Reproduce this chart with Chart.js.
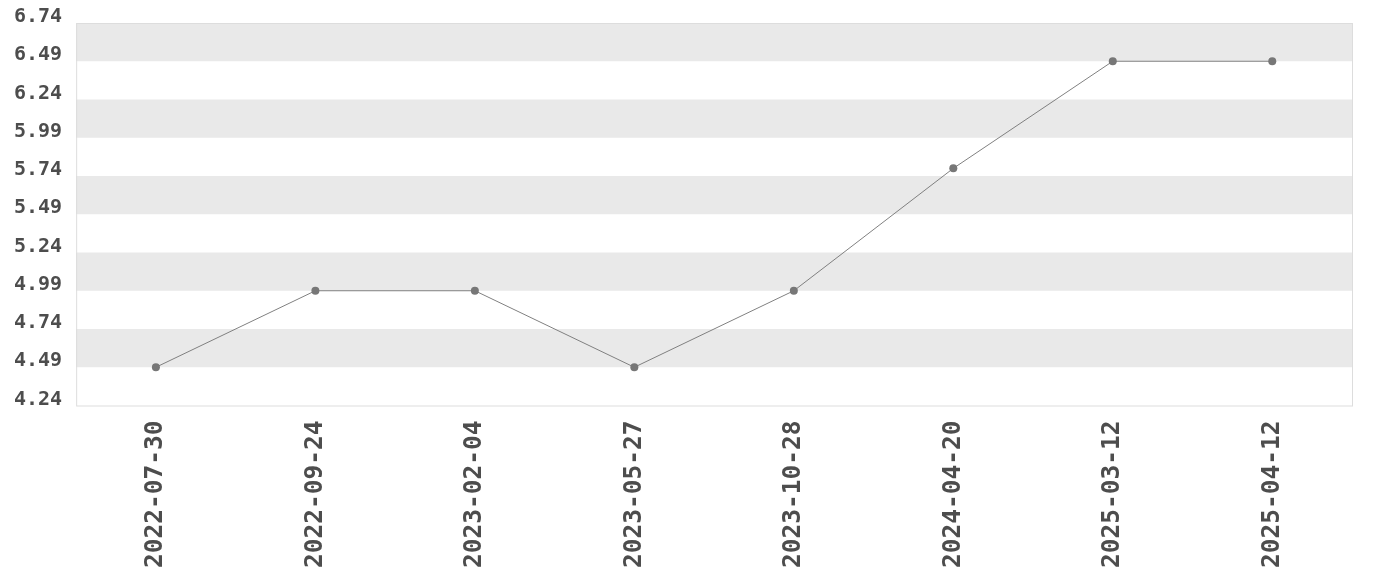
<!DOCTYPE html>
<html>
<head>
<meta charset="utf-8">
<script src="https://cdn.jsdelivr.net/npm/chart.js@4.4.0/dist/chart.umd.min.js"></script>
<style>
  html, body { margin: 0; padding: 0; background: #fff; overflow: hidden; }
  #wrap { width: 1380px; height: 583px; position: relative; top: -3px; }
</style>
</head>
<body>
<div id="wrap"><canvas id="grafico"></canvas></div>
<script>
// Datos del gráfico
const fechas = [
  "2022-07-30",
  "2022-09-24",
  "2023-02-04",
  "2023-05-27",
  "2023-10-28",
  "2024-04-20",
  "2025-03-12",
  "2025-04-12",
];
const valores = [4.49, 4.99, 4.99, 4.49, 4.99, 5.79, 6.49, 6.49];
const marcasY = [4.24, 4.49, 4.74, 4.99, 5.24, 5.49, 5.74, 5.99, 6.24, 6.49, 6.74];

// Bandas grises alternadas y borde del área
const bandas = {
  id: "bandas",
  beforeDatasetsDraw(chart) {
    const { ctx, chartArea, scales } = chart;
    const y = scales.y;
    ctx.save();
    ctx.fillStyle = "#e9e9e9";
    for (let i = marcasY.length - 1; i > 0; i -= 2) {
      const top = y.getPixelForValue(marcasY[i]);
      const bottom = y.getPixelForValue(marcasY[i - 1]);
      ctx.fillRect(chartArea.left, top, chartArea.right - chartArea.left, bottom - top);
    }
    ctx.strokeStyle = "#dddddd";
    ctx.lineWidth = 1;
    ctx.strokeRect(
      chartArea.left + 0.5,
      chartArea.top + 0.5,
      chartArea.right - chartArea.left,
      chartArea.bottom - chartArea.top
    );
    ctx.restore();
  },
};

const ctx = document.getElementById("grafico").getContext("2d");
new Chart(ctx, {
  type: "line",
  data: {
    labels: fechas,
    datasets: [
      {
        data: valores,
        borderColor: "#808080",
        borderWidth: 1,
        backgroundColor: "#777777",
        pointBackgroundColor: "#777777",
        pointBorderColor: "#777777",
        pointRadius: 4,
        pointBorderWidth: 0,
        tension: 0,
        fill: false,
      },
    ],
  },
  options: {
    responsive: true,
    maintainAspectRatio: false,
    animation: false,
    layout: { padding: { top: 3, right: 28, bottom: -3, left: 0 } },
    plugins: {
      legend: { display: false },
      tooltip: { enabled: false },
    },
    scales: {
      x: {
        offset: true,
        grid: { display: false, drawTicks: false },
        border: { display: false },
        ticks: {
          color: "#4d4d4d",
          font: { family: "'DejaVu Sans Mono'", size: 24.5, weight: "bold" },
          maxRotation: 90,
          minRotation: 90,
          padding: 15,
          autoSkip: false,
        },
      },
      y: {
        min: 4.24,
        max: 6.74,
        afterBuildTicks(scale) {
          scale.ticks = marcasY.map((v) => ({ value: v }));
        },
        grid: { display: false, drawTicks: false },
        border: { display: false },
        ticks: {
          color: "#4d4d4d",
          font: { family: "'DejaVu Sans Mono'", size: 20, weight: "bold" },
          padding: 14,
          labelOffset: -6,
          callback: (v) => Number(v).toFixed(2),
        },
      },
    },
  },
  plugins: [bandas],
});
</script>
</body>
</html>
